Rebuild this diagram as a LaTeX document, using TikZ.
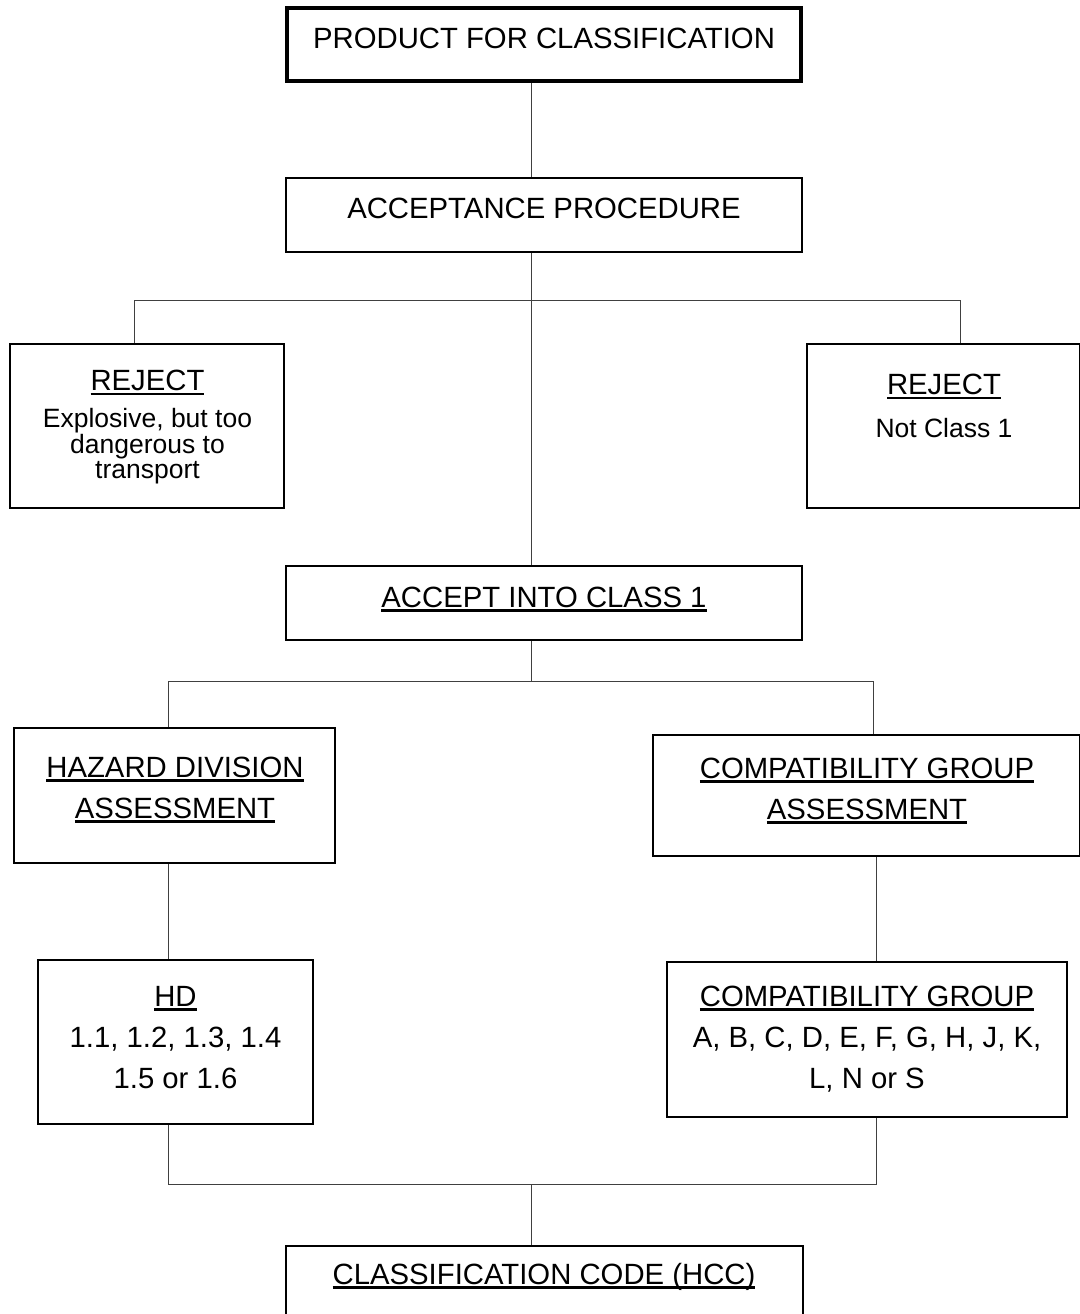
\documentclass[tikz,border=0pt]{standalone}
\usepackage{fontspec}
\setmainfont{Liberation Sans}
\usepackage{tikz}
\usetikzlibrary{positioning}
\newcommand{\ulword}[1]{\setbox0=\hbox{#1}\rlap{\rule[-4.5pt]{\wd0}{2.4pt}}\box0}
\newcommand{\bigtext}{\fontsize{29.3}{41}\selectfont}
\newcommand{\smalltext}{\fontsize{26.5}{24.5}\selectfont}

\begin{document}
\begin{tikzpicture}[x=1pt, y=-1pt]
  \tikzstyle{box} = [rectangle, draw=black, line width=2pt, inner sep=0pt]
  \tikzstyle{mainbox} = [box, line width=4pt]
  \tikzstyle{boxtext} = [align=center, inner sep=0pt, anchor=base, font=\bigtext]
  \tikzstyle{desctext} = [boxtext, font=\smalltext]
  \tikzstyle{wire} = [draw=black!75, line width=1pt]

  \useasboundingbox (0,0) rectangle (1079,1314);

  % boxes
  \node [mainbox, minimum width=514pt, minimum height=73pt] (product) at (544,44.5) {};
  \node [box, minimum width=516pt, minimum height=74pt] (accproc) at (544,215) {};
  \node [box, minimum width=274pt, minimum height=164pt] (rejL) at (147,426) {};
  \node [box, minimum width=273pt, minimum height=164pt] (rejR) at (943.5,426) {};
  \node [box, minimum width=516pt, minimum height=74pt] (accept) at (544,603) {};
  \node [box, minimum width=321pt, minimum height=135pt] (hdass) at (174.5,795.5) {};
  \node [box, minimum width=427pt, minimum height=121pt] (cgass) at (866.5,795.5) {};
  \node [box, minimum width=275pt, minimum height=164pt] (hd) at (175.5,1042) {};
  \node [box, minimum width=400pt, minimum height=155pt] (cg) at (867,1039.5) {};
  \node [box, minimum width=517pt, minimum height=84pt] (hcc) at (544.5,1288) {};

  % texts (multi-line ones sit on their last baseline)
  \node [boxtext] (product-t) at (544,48.5) {PRODUCT FOR CLASSIFICATION};
  \node [boxtext] (accproc-t) at (544,218.5) {ACCEPTANCE PROCEDURE};
  \node [boxtext] (rejL-t) at (147.5,390.5) {\ulword{REJECT}};
  \node [desctext] (rejL-d) at (147.5,478) {Explosive, but too\\dangerous to\\transport};
  \node [boxtext] (rejR-t) at (944,394.5) {\ulword{REJECT}};
  \node [desctext] (rejR-d) at (944,437) {Not Class 1};
  \node [boxtext] (accept-t) at (544,607) {\ulword{ACCEPT INTO CLASS 1}};
  \node [boxtext] (hdass-t) at (175,818) {\ulword{HAZARD DIVISION}\\\ulword{ASSESSMENT}};
  \node [boxtext] (cgass-t) at (867,819) {\ulword{COMPATIBILITY GROUP}\\\ulword{ASSESSMENT}};
  \node [boxtext] (hd-t) at (175.5,1088) {\ulword{HD}\\1.1, 1.2, 1.3, 1.4\\1.5 or 1.6};
  \node [boxtext] (cg-t) at (867,1088) {\ulword{COMPATIBILITY GROUP}\\A, B, C, D, E, F, G, H, J, K,\\L, N or S};
  \node [boxtext] (hcc-t) at (544,1284) {\ulword{CLASSIFICATION CODE (HCC)}};

  % junctions
  \coordinate (spine) at (531,0);
  \coordinate (tapL) at (134,300);
  \coordinate (tapR) at (960,300);
  \coordinate (tapHD) at (168,681);
  \coordinate (tapCG) at (873,681);
  \coordinate (joinHD) at (168,1184);
  \coordinate (joinCG) at (876,1184);
  \coordinate (join) at (531,1184);

  % connectors
  \path [wire] (product.south -| spine) -- (accproc.north -| spine);
  \path [wire] (accproc.south -| spine) -- (accept.north -| spine);
  \path [wire] (rejL.north -| tapL) -- (tapL) -- (tapR) -- (rejR.north -| tapR);
  \path [wire] (accept.south -| spine) -- (tapHD -| spine);
  \path [wire] (hdass.north -| tapHD) -- (tapHD) -- (tapCG) -- (cgass.north -| tapCG);
  \path [wire] (hdass.south -| tapHD) -- (hd.north -| tapHD);
  \path [wire] (cgass.south -| joinCG) -- (cg.north -| joinCG);
  \path [wire] (hd.south -| joinHD) -- (joinHD) -- (joinCG) -- (cg.south -| joinCG);
  \path [wire] (join) -- (hcc.north -| join);
\end{tikzpicture}
\end{document}
